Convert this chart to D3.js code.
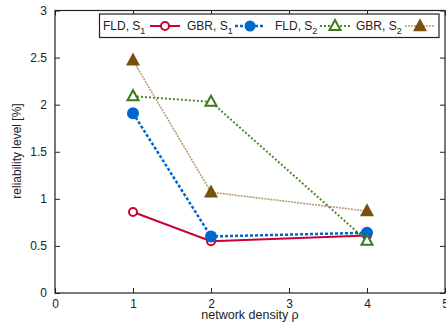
<!DOCTYPE html>
<html>
<head>
<meta charset="utf-8">
<script src="https://cdn.jsdelivr.net/npm/d3@7"></script>
<style>
  body { margin: 0; background: #fff; }
  text { font-family: "Liberation Sans", Arial, sans-serif; font-size: 12px; fill: #222; }
</style>
</head>
<body>
<svg id="chart" width="446" height="329"></svg>
<script>
// network density values on x
var density = [1, 2, 4]
var fldS1 = [0.86, 0.55, 0.61]
var gbrS1 = [1.91, 0.60, 0.64]
var fldS2 = [2.09, 2.03, 0.555]
var gbrS2 = [2.47, 1.07, 0.87]
var xTicks = [0, 1, 2, 3, 4, 5]
var yTicks = [0, 0.5, 1, 1.5, 2, 2.5, 3]

var series = [
  {name: "FLD", sub: "1", values: fldS1, color: "#cc0033", line: "#cc0033", width: 2, dash: null, marker: "circle", fill: false},
  {name: "GBR", sub: "1", values: gbrS1, color: "#0066cc", line: "#0066cc", width: 2.5, dash: "3,2", marker: "circle", fill: true},
  {name: "FLD", sub: "2", values: fldS2, color: "#3d7a1c", line: "#4f8a2a", width: 2, dash: "2,2", marker: "triangle", fill: false},
  {name: "GBR", sub: "2", values: gbrS2, color: "#7a500f", line: "#b89c74", width: 1.6, dash: "2,1", marker: "triangle", fill: true}
]

var m = {left: 55, right: 445, top: 10.5, bottom: 293}
var svg = d3.select("#chart")
var x = d3.scaleLinear().domain([0, 5]).range([m.left, m.right])
var y = d3.scaleLinear().domain([0, 3]).range([m.bottom, m.top])

// axes, ticks inward on all four sides
svg.append("g").attr("transform", "translate(0," + m.bottom + ")")
  .call(d3.axisBottom(x).tickValues(xTicks).tickSize(-5).tickPadding(6).tickFormat(d3.format("d")))
svg.append("g").attr("transform", "translate(0," + m.top + ")")
  .call(d3.axisTop(x).tickValues(xTicks).tickSize(-5).tickFormat(""))
svg.append("g").attr("transform", "translate(" + m.left + ",0)")
  .call(d3.axisLeft(y).tickValues(yTicks).tickSize(-5).tickPadding(8).tickFormat(function(d){ return d3.format("")(d) }))
svg.append("g").attr("transform", "translate(" + m.right + ",0)")
  .call(d3.axisRight(y).tickValues(yTicks).tickSize(-5).tickFormat(""))
svg.selectAll(".domain").remove()
svg.selectAll(".tick line").attr("stroke", "#222")
svg.selectAll(".tick text").style("font-size", "12px").attr("fill", "#222")
svg.append("rect").attr("x", m.left).attr("y", m.top)
  .attr("width", m.right - m.left).attr("height", m.bottom - m.top)
  .attr("fill", "none").attr("stroke", "#222").attr("stroke-width", 1.2)

svg.append("text").attr("x", 250).attr("y", 318.5).attr("text-anchor", "middle")
  .style("font-size", "12.5px").text("network density ρ")
svg.append("text").attr("transform", "translate(20.5," + 151 + ") rotate(-90)")
  .attr("text-anchor", "middle").text("reliability level [%]")

function drawMarker(g, s, cx, cy, big) {
  if (s.marker == "circle") {
    g.append("circle").attr("cx", cx).attr("cy", cy).attr("r", s.fill ? (big ? 6 : 5.5) : 4)
      .attr("fill", s.fill ? s.color : "#fff").attr("stroke", s.color).attr("stroke-width", s.fill ? 0 : 2)
  } else {
    var h = s.fill ? 13 : 10, w = s.fill ? 14 : 11
    var p = [[cx, cy - h * 0.6], [cx - w / 2, cy + h * 0.4], [cx + w / 2, cy + h * 0.4]]
    g.append("path").attr("d", d3.line()(p) + "Z")
      .attr("fill", s.fill ? s.color : "#fff").attr("stroke", s.color).attr("stroke-width", s.fill ? 0 : 2)
  }
}

var line = d3.line().x(function(d){ return x(d[0]) }).y(function(d){ return y(d[1]) })
series.forEach(function(s) {
  var pts = density.map(function(d, i){ return [d, s.values[i]] })
  var g = svg.append("g")
  g.append("path").attr("d", line(pts)).attr("fill", "none")
    .attr("stroke", s.line).attr("stroke-width", s.width).attr("stroke-dasharray", s.dash)
  pts.forEach(function(p){ drawMarker(g, s, x(p[0]), y(p[1]), true) })
})

// legend
var lg = svg.append("g")
lg.append("rect").attr("x", 99.5).attr("y", 14).attr("width", 339.5).attr("height", 23.5)
  .attr("fill", "#fff").attr("stroke", "#222").attr("stroke-width", 1.2)
var textX = [103, 187, 275, 356]
var sampleX = [150, 235, 320, 405]
series.forEach(function(s, i) {
  var t = lg.append("text").attr("x", textX[i]).attr("y", 30)
  t.append("tspan").text(s.name + ", S")
  t.append("tspan").attr("dy", 4).style("font-size", "9px").text(s.sub)
  lg.append("line").attr("x1", sampleX[i]).attr("x2", sampleX[i] + 30).attr("y1", 26).attr("y2", 26)
    .attr("stroke", s.line).attr("stroke-width", s.width).attr("stroke-dasharray", s.dash)
  drawMarker(lg, s, sampleX[i] + 15, 26, false)
})
</script>
</body>
</html>
